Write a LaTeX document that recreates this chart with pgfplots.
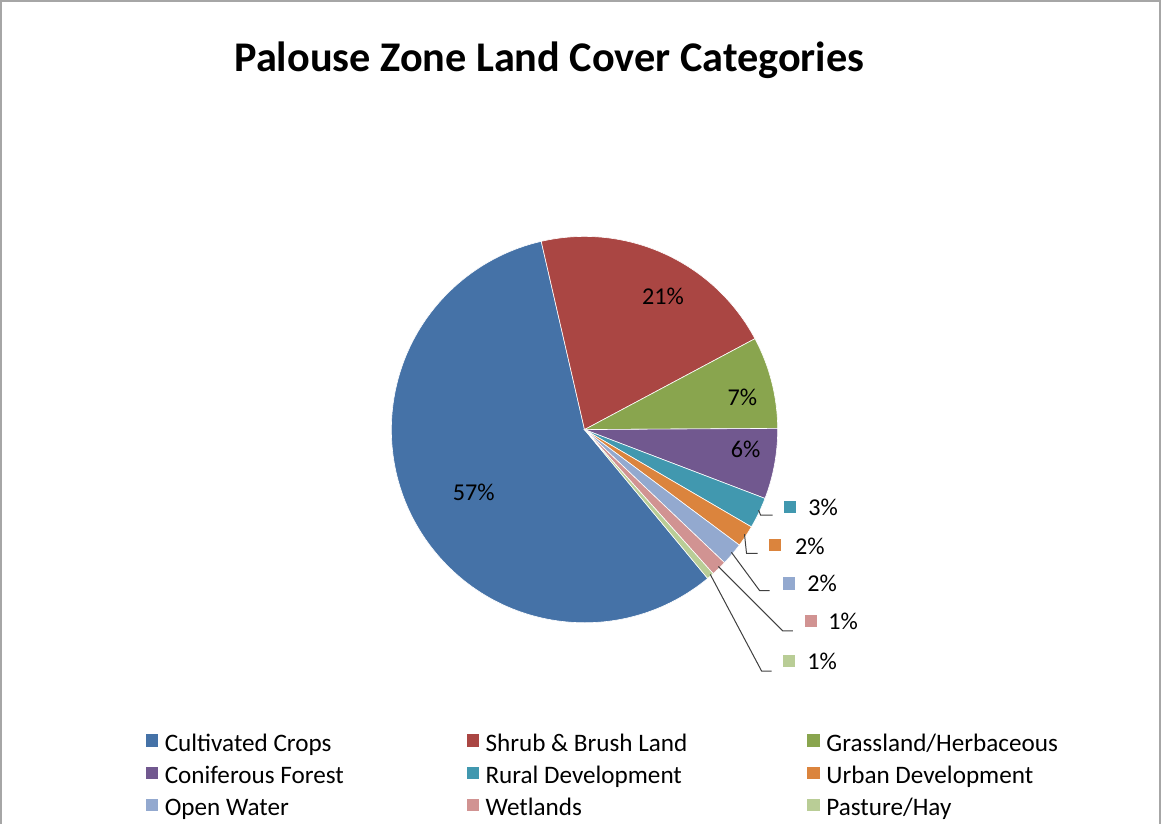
\documentclass[border=0pt]{standalone}
\usepackage{pgfplots}
\pgfplotsset{compat=1.18}
\usepackage{pgfplotstable}
\usepackage{fontspec}
\setmainfont{Carlito}

\definecolor{c0}{HTML}{4572A7}
\definecolor{c1}{HTML}{AA4643}
\definecolor{c2}{HTML}{89A54E}
\definecolor{c3}{HTML}{71588F}
\definecolor{c4}{HTML}{4198AF}
\definecolor{c5}{HTML}{DB843D}
\definecolor{c6}{HTML}{93A9CF}
\definecolor{c7}{HTML}{D19392}
\definecolor{c8}{HTML}{B9CD96}

% share of each land cover category (percent), clockwise order
\pgfplotstableread[col sep=comma]{
name,value
Cultivated Crops,57.4
Shrub & Brush Land,20.8
Grassland/Herbaceous,7.7
Coniferous Forest,5.9
Rural Development,2.6
Urban Development,1.8
Open Water,1.9
Wetlands,1.3
Pasture/Hay,0.6
}\piedata

% angles of the slices (clockwise from the first slice)
\pgfmathsetmacro\curang{309.6}
\xdef\curang{\curang}
\foreach \i in {0,...,8}{%
  \pgfplotstablegetelem{\i}{value}\of\piedata
  \pgfmathsetmacro\endang{\curang-3.6*\pgfplotsretval}%
  \expandafter\xdef\csname sa\i\endcsname{\curang}%
  \expandafter\xdef\csname ea\i\endcsname{\endang}%
  \xdef\curang{\endang}%
}

\begin{document}
\begin{tikzpicture}
\begin{axis}[
  scale only axis, width=580.5pt, height=412.5pt,
  xmin=0, xmax=1161, ymin=0, ymax=825,
  hide axis, clip=false,
  legend columns=3,
  legend image code/.code={\fill[#1] (0pt,-0.4pt) rectangle (5.5pt,5.3pt);},
  legend style={draw=none, fill=none, inner sep=0pt, outer sep=0pt,
    font=\fontsize{12.5}{15}\selectfont,
    at={(axis cs:151,90)}, anchor=north west,
    nodes={inner sep=0pt, text height=9pt, text depth=3pt},
    /tikz/every odd column/.append style={column sep=3.5pt},
    row sep=4pt},
]
\pgfplotsinvokeforeach{0,...,8}{%
  \fill[c#1, draw=white, line width=0.3pt]
    (axis cs:587,392) -- ([shift={(\csname sa#1\endcsname:96pt)}]axis cs:587,392)
    arc[start angle=\csname sa#1\endcsname, end angle=\csname ea#1\endcsname, radius=96pt] -- cycle;
}
% border
\draw[black!35, line width=1pt] (axis cs:7,0) -- (axis cs:7,818) -- (axis cs:1159,818) -- (axis cs:1159,0);

% title
\node[font=\fontsize{21}{25}\selectfont\bfseries] at (axis cs:552,759) {Palouse Zone Land Cover Categories};

% inside labels
\node[font=\fontsize{12}{14}\selectfont] at (axis cs:665,524) {21\%};
\node[font=\fontsize{12}{14}\selectfont] at (axis cs:744,424) {7\%};
\node[font=\fontsize{12}{14}\selectfont] at (axis cs:747,372) {6\%};
\node[font=\fontsize{12}{14}\selectfont] at (axis cs:477,330) {57\%};

% leader lines
\draw[black!75, line width=0.5pt] (axis cs:760,312) -- (axis cs:762,307) -- (axis cs:774,307);
\draw[black!75, line width=0.5pt] (axis cs:746,288) -- (axis cs:748,269) -- (axis cs:759,269);
\draw[black!75, line width=0.5pt] (axis cs:733,270) -- (axis cs:761,232) -- (axis cs:771,232);
\draw[black!75, line width=0.5pt] (axis cs:720,256) -- (axis cs:784,192) -- (axis cs:794,192);
\draw[black!75, line width=0.5pt] (axis cs:712,248) -- (axis cs:763,152) -- (axis cs:773,152);

% outside labels
\fill[c4] (axis cs:785,309) rectangle (axis cs:797,321);
\node[anchor=west, inner sep=0pt, font=\fontsize{12}{14}\selectfont] at (axis cs:809,315) {3\%};
\fill[c5] (axis cs:770,271) rectangle (axis cs:782,283);
\node[anchor=west, inner sep=0pt, font=\fontsize{12}{14}\selectfont] at (axis cs:796,276) {2\%};
\fill[c6] (axis cs:784,233) rectangle (axis cs:796,245);
\node[anchor=west, inner sep=0pt, font=\fontsize{12}{14}\selectfont] at (axis cs:808,239) {2\%};
\fill[c7] (axis cs:806,196) rectangle (axis cs:818,208);
\node[anchor=west, inner sep=0pt, font=\fontsize{12}{14}\selectfont] at (axis cs:829,201) {1\%};
\fill[c8] (axis cs:784,156) rectangle (axis cs:796,168);
\node[anchor=west, inner sep=0pt, font=\fontsize{12}{14}\selectfont] at (axis cs:808,162) {1\%};

% legend
\addlegendimage{c0}\addlegendentry{\makebox[150pt][l]{Cultivated Crops}}
\addlegendimage{c1}\addlegendentry{\makebox[160pt][l]{Shrub \& Brush Land}}
\addlegendimage{c2}\addlegendentry{\makebox[120pt][l]{Grassland/Herbaceous}}
\addlegendimage{c3}\addlegendentry{\makebox[150pt][l]{Coniferous Forest}}
\addlegendimage{c4}\addlegendentry{\makebox[160pt][l]{Rural Development}}
\addlegendimage{c5}\addlegendentry{\makebox[120pt][l]{Urban Development}}
\addlegendimage{c6}\addlegendentry{\makebox[150pt][l]{Open Water}}
\addlegendimage{c7}\addlegendentry{\makebox[160pt][l]{Wetlands}}
\addlegendimage{c8}\addlegendentry{\makebox[120pt][l]{Pasture/Hay}}
\end{axis}
\end{tikzpicture}
\end{document}
